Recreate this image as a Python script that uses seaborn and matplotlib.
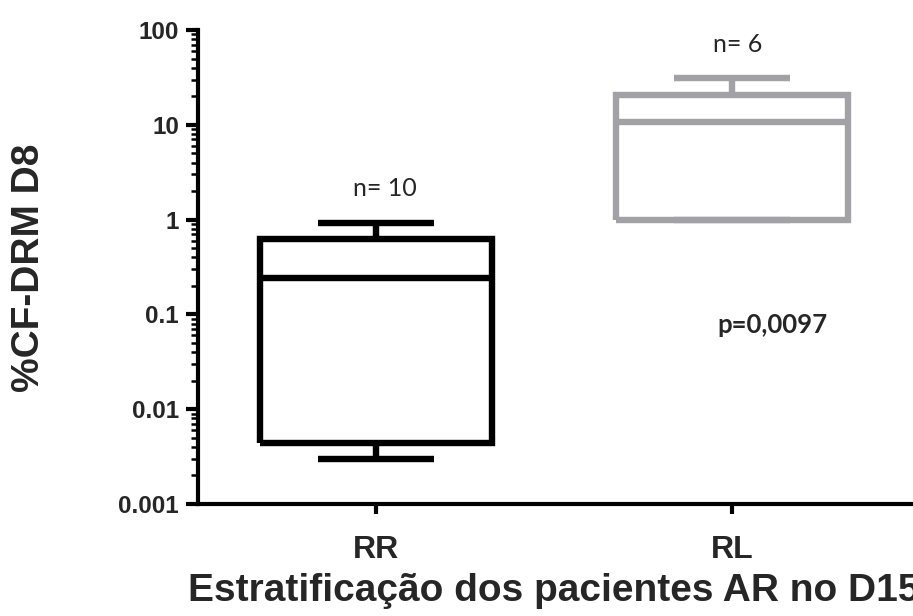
import matplotlib
matplotlib.use("Agg")
import matplotlib.pyplot as plt
import seaborn as sns
import pandas as pd
from matplotlib.ticker import LogLocator, NullFormatter

# ---- data (five-number summaries: min, Q1, median, Q3, max)
groups = ["RR", "RL"]
rr_summary = [0.003, 0.0044, 0.24, 0.62, 0.92]
rl_summary = [1.0, 1.0, 10.7, 20.6, 31.0]
group_sizes = ["n= 10", "n= 6"]
p_text = "p=0,0097"
y_ticks = [0.001, 0.01, 0.1, 1, 10, 100]
y_tick_labels = ["0.001", "0.01", "0.1", "1", "10", "100"]
colors = ["#000000", "#a2a2a6"]

df = pd.DataFrame({
    "grupo": [groups[0]] * len(rr_summary) + [groups[1]] * len(rl_summary),
    "valor": rr_summary + rl_summary,
})

sns.set_style("ticks")
plt.rcParams["font.family"] = ["Liberation Sans", "DejaVu Sans"]
plt.rcParams["lines.solid_joinstyle"] = "miter"
plt.rcParams["lines.solid_capstyle"] = "butt"

fig = plt.figure(figsize=(9.13, 6.16), dpi=100)
ax = fig.add_axes([198 / 913, 112 / 616, 715 / 913, 474 / 616])
ax.set_yscale("log")

sns.boxplot(data=df, x="grupo", y="valor", hue="grupo", order=groups,
            hue_order=groups, palette=colors, fill=False, whis=(0, 100),
            width=0.65, linewidth=4.6, legend=False, dodge=False, ax=ax)

ax.set_ylim(0.001, 100)
ax.set_xlim(-0.5, 1.508)
ax.set_yticks(y_ticks, labels=y_tick_labels)
ax.yaxis.set_minor_locator(LogLocator(base=10, subs=range(2, 10), numticks=20))
ax.yaxis.set_minor_formatter(NullFormatter())

ax.tick_params(axis="y", which="major", length=8.6, width=3, labelsize=17.5, pad=5, color="black")
ax.tick_params(axis="y", which="minor", length=5, width=1.8, color="black")
ax.tick_params(axis="x", which="major", length=7, width=3, labelsize=23, pad=15, color="black")
for lbl in ax.get_yticklabels() + ax.get_xticklabels():
    lbl.set_fontweight("bold")

sns.despine(ax=ax)
for s in ["left", "bottom"]:
    ax.spines[s].set_linewidth(3)
    ax.spines[s].set_color("black")
ax.set_xlabel("")
ax.set_ylabel("")

fig.text(29 / 913, 1 - 268 / 616, "%CF-DRM D8", rotation=90, ha="center", va="center",
         fontsize=28, fontweight="bold")
fig.text(554 / 913, 1 - 591 / 616, "Estratificação dos pacientes AR no D15",
         ha="center", va="center", fontsize=28, fontweight="bold")

ax.text(0.025, 2.15, group_sizes[0], ha="center", va="center", fontsize=18,
        family=["Lato", "DejaVu Sans"])
ax.text(1.017, 69.5, group_sizes[1], ha="center", va="center", fontsize=18,
        family=["Lato", "DejaVu Sans"])
ax.text(1.112, 0.0773, p_text, ha="center", va="center", fontsize=18.5, fontweight="bold",
        family=["Lato", "DejaVu Sans"])

fig.savefig("out.png", dpi=100)
